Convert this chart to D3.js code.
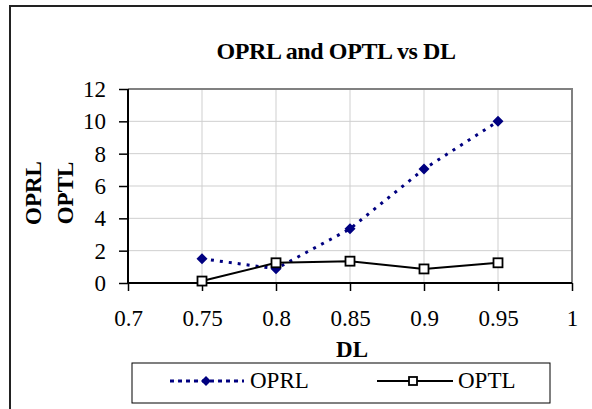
<!DOCTYPE html>
<html>
<head>
<meta charset="utf-8">
<script src="https://cdn.jsdelivr.net/npm/d3@7"></script>
<style>
  html, body { margin: 0; padding: 0; background: #fff; }
  svg { display: block; }
  svg text { font-family: "Liberation Serif", "Times New Roman", serif; fill: #000; }
</style>
</head>
<body>
<svg id="chart" width="592" height="409"></svg>
<script>
// ── data ───────────────────────────────────────────────
const dl   = [0.75, 0.8, 0.85, 0.9, 0.95];
const oprl = [1.5, 0.88, 3.35, 7.05, 10.0];
const optl = [0.12, 1.25, 1.35, 0.87, 1.25];
const xTicks = [0.7, 0.75, 0.8, 0.85, 0.9, 0.95, 1];
const yTicks = [0, 2, 4, 6, 8, 10, 12];

const SERIF = '"Liberation Serif", "Times New Roman", serif';
const svg = d3.select('#chart');

// outer chart frame (runs off the right / bottom edge)
svg.append('rect')
  .attr('x', 10).attr('y', 6)
  .attr('width', 700).attr('height', 500)
  .attr('fill', '#fff')
  .attr('stroke', '#222').attr('stroke-width', 2);

// plot area
const L = 128, R = 572, T = 89, B = 283;
const x = d3.scaleLinear().domain([0.7, 1]).range([L, R]);
const y = d3.scaleLinear().domain([0, 12]).range([B, T]);

// gridlines
svg.append('g').selectAll('line')
  .data(xTicks.slice(1, -1))
  .join('line')
  .attr('x1', d => x(d)).attr('x2', d => x(d))
  .attr('y1', T).attr('y2', B)
  .attr('stroke', '#cfcfcf').attr('stroke-width', 1);

svg.append('g').selectAll('line')
  .data(yTicks.slice(1, -1))
  .join('line')
  .attr('x1', L).attr('x2', R)
  .attr('y1', d => y(d)).attr('y2', d => y(d))
  .attr('stroke', '#cfcfcf').attr('stroke-width', 1);

// plot border (top + right in grey)
svg.append('path')
  .attr('d', `M${L},${T}H${R}V${B}`)
  .attr('fill', 'none')
  .attr('stroke', '#808080').attr('stroke-width', 2);

// axes
const xAxis = svg.append('g')
  .attr('transform', `translate(0,${B})`)
  .call(d3.axisBottom(x).tickValues(xTicks).tickFormat(d3.format('')).tickSize(8).tickPadding(19));
const yAxis = svg.append('g')
  .attr('transform', `translate(${L},0)`)
  .call(d3.axisLeft(y).tickValues(yTicks).tickSize(9).tickPadding(13));

[xAxis, yAxis].forEach(g => {
  g.attr('font-family', SERIF).attr('font-size', 23);
  g.select('.domain').attr('stroke', '#000').attr('stroke-width', 2);
  g.selectAll('.tick line').attr('stroke', '#000').attr('stroke-width', 1.5);
  g.selectAll('.tick text').attr('fill', '#000');
});
xAxis.select('.domain').attr('d', `M${L},0H${R}`);
yAxis.select('.domain').attr('d', `M0,${B}V${T}`);

// title
svg.append('text')
  .attr('x', 336).attr('y', 59)
  .attr('text-anchor', 'middle')
  .attr('font-family', SERIF)
  .attr('font-weight', 'bold')
  .attr('font-size', 24)
  .attr('letter-spacing', -0.4)
  .text('OPRL and OPTL vs DL');

// axis titles
svg.append('text')
  .attr('x', 352).attr('y', 357)
  .attr('text-anchor', 'middle')
  .attr('font-family', SERIF)
  .attr('font-weight', 'bold')
  .attr('font-size', 23)
  .text('DL');

const yTitle = svg.append('text')
  .attr('transform', 'translate(41,193) rotate(-90)')
  .attr('text-anchor', 'middle')
  .attr('font-family', SERIF)
  .attr('font-weight', 'bold')
  .attr('font-size', 23);
yTitle.append('tspan').attr('x', 0).attr('dy', 0).text('OPRL');
yTitle.append('tspan').attr('x', 0).attr('dy', 32).text('OPTL');

// series
const line = d3.line().x(d => x(d[0])).y(d => y(d[1]));
const oprlPts = dl.map((d, i) => [d, oprl[i]]);
const optlPts = dl.map((d, i) => [d, optl[i]]);

svg.append('path')
  .datum(oprlPts)
  .attr('d', line)
  .attr('fill', 'none')
  .attr('stroke', '#000080').attr('stroke-width', 3)
  .attr('stroke-dasharray', '3,6');

svg.append('path')
  .datum(optlPts)
  .attr('d', line)
  .attr('fill', 'none')
  .attr('stroke', '#000').attr('stroke-width', 2);

const diamond = (cx, cy, r) => `M${cx},${cy - r}L${cx + r},${cy}L${cx},${cy + r}L${cx - r},${cy}Z`;

svg.append('g').selectAll('path')
  .data(oprlPts)
  .join('path')
  .attr('d', d => diamond(x(d[0]), y(d[1]), 5.5))
  .attr('fill', '#000080');

svg.append('g').selectAll('rect')
  .data(optlPts)
  .join('rect')
  .attr('x', d => x(d[0]) - 4.5).attr('y', d => y(d[1]) - 4.5)
  .attr('width', 9).attr('height', 9)
  .attr('fill', '#fff')
  .attr('stroke', '#000').attr('stroke-width', 1.8);

// legend
const lg = svg.append('g').attr('font-family', SERIF).attr('font-size', 23);
lg.append('rect')
  .attr('x', 132).attr('y', 363)
  .attr('width', 418).attr('height', 40)
  .attr('fill', '#fff')
  .attr('stroke', '#000').attr('stroke-width', 1);

const ly = 381;
lg.append('line')
  .attr('x1', 170).attr('x2', 244).attr('y1', ly).attr('y2', ly)
  .attr('stroke', '#000080').attr('stroke-width', 3)
  .attr('stroke-dasharray', '4,4');
lg.append('path').attr('d', diamond(206, ly, 5)).attr('fill', '#000080');
lg.append('text').attr('x', 250).attr('y', ly + 7).text('OPRL');

lg.append('line')
  .attr('x1', 377).attr('x2', 453).attr('y1', ly).attr('y2', ly)
  .attr('stroke', '#000').attr('stroke-width', 2);
lg.append('rect')
  .attr('x', 413 - 4).attr('y', ly - 4).attr('width', 8).attr('height', 8)
  .attr('fill', '#fff').attr('stroke', '#000').attr('stroke-width', 1.8);
lg.append('text').attr('x', 458).attr('y', ly + 7).text('OPTL');
</script>
</body>
</html>
